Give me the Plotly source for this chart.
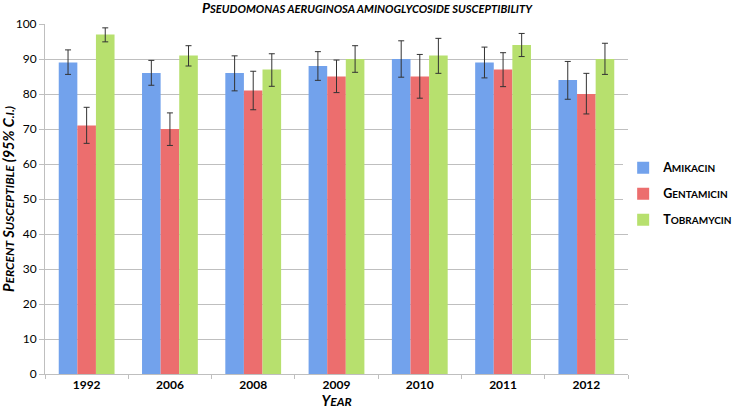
import plotly.graph_objects as go

years = ["1992", "2006", "2008", "2009", "2010", "2011", "2012"]

amikacin = [89, 86, 86, 88, 90, 89, 84]
amikacin_hi = [92.6, 89.6, 90.9, 92.1, 95.2, 93.4, 89.3]
amikacin_lo = [85.6, 82.5, 80.9, 83.9, 84.8, 84.6, 78.5]

gentamicin = [71, 70, 81, 85, 85, 87, 80]
gentamicin_hi = [76.2, 74.6, 86.5, 89.7, 91.3, 91.8, 85.9]
gentamicin_lo = [65.9, 65.3, 75.5, 80.4, 78.8, 82.1, 74.3]

tobramycin = [97, 91, 87, 90, 91, 94, 90]
tobramycin_hi = [98.9, 93.8, 91.5, 93.8, 95.9, 97.3, 94.5]
tobramycin_lo = [94.9, 88.0, 82.2, 86.2, 85.9, 90.7, 85.6]

y_ticks = [0, 10, 20, 30, 40, 50, 60, 70, 80, 90, 100]

FONT = "Lato, 'Open Sans', sans-serif"


def sc(text, big, small):
    """Emulate small caps: first letter of each word larger."""
    out = []
    for word in text.split(" "):
        if word and word[0].isalpha():
            out.append(f"<span style='font-size:{big}px'>{word[0].upper()}</span>"
                       f"<span style='font-size:{small}px'>{word[1:].upper()}</span>")
        else:
            out.append(f"<span style='font-size:{big}px'>{word}</span>")
    return " ".join(out)


series = [
    ("Amikacin", amikacin, amikacin_hi, amikacin_lo, "#72a2ec"),
    ("Gentamicin", gentamicin, gentamicin_hi, gentamicin_lo, "#ec6e6e"),
    ("Tobramycin", tobramycin, tobramycin_hi, tobramycin_lo, "#b7e06e"),
]

fig = go.Figure()
for name, vals, hi, lo, color in series:
    fig.add_trace(go.Bar(
        x=years, y=vals,
        name="<b>" + sc(name, 12.5, 10) + "</b>",
        legendgroup=name,
        marker=dict(color=color, line=dict(width=0)),
        error_y=dict(
            type="data", symmetric=False,
            array=[h - v for h, v in zip(hi, vals)],
            arrayminus=[v - l for v, l in zip(vals, lo)],
            color="#333333", thickness=1, width=3,
        ),
    ))

fig.update_layout(
    width=734, height=413,
    margin=dict(l=45, r=106, t=24, b=39, autoexpand=False),
    paper_bgcolor="white", plot_bgcolor="white",
    font=dict(family=FONT, color="#000000"),
    barmode="group", bargap=0.33, bargroupgap=0,
    title=dict(
        text="<b><i><span style='font-size:14px'>P</span><span style='font-size:11.2px'>SEUDOMONAS AERUGINOSA AMINOGLYCOSIDE SUSCEPTIBILITY</span></i></b>",
        x=0.5, xanchor="center", y=0.978, yanchor="middle",
        font=dict(family=FONT, size=12, color="#000000"),
    ),
    legend=dict(
        xref="container", yref="container",
        x=0.849, xanchor="left", y=0.531, yanchor="middle",
        font=dict(family=FONT, size=12, color="#000000"),
        tracegroupgap=7, itemwidth=30,
    ),
    showlegend=True,
)

fig.update_xaxes(
    type="category", automargin=False,
    title=dict(text="<b><i>" + sc("Year", 14.5, 12) + "</i></b>", standoff=4,
               font=dict(family=FONT, size=14)),
    tickfont=dict(family=FONT, size=12, weight="bold"),
    showline=True, linecolor="#bfbfbf", linewidth=1,
    ticks="outside", tickson="boundaries", ticklen=4, tickcolor="#bfbfbf",
    showgrid=False,
)

fig.update_yaxes(
    range=[0, 100], tickvals=y_ticks, automargin=False,
    title=dict(text="<b><i>" + sc("Percent Susceptible (95% C.I.)", 14.5, 12) + "</i></b>",
               standoff=6, font=dict(family=FONT, size=14)),
    tickfont=dict(family=FONT, size=12),
    showline=True, linecolor="#bfbfbf", linewidth=1,
    ticks="outside", ticklen=5, tickcolor="#bfbfbf",
    showgrid=True, gridcolor="#bfbfbf", gridwidth=1,
    zeroline=False,
)

fig.write_html("out.html", config={"displayModeBar": False},
               post_script="document.body.style.margin='0px';")
